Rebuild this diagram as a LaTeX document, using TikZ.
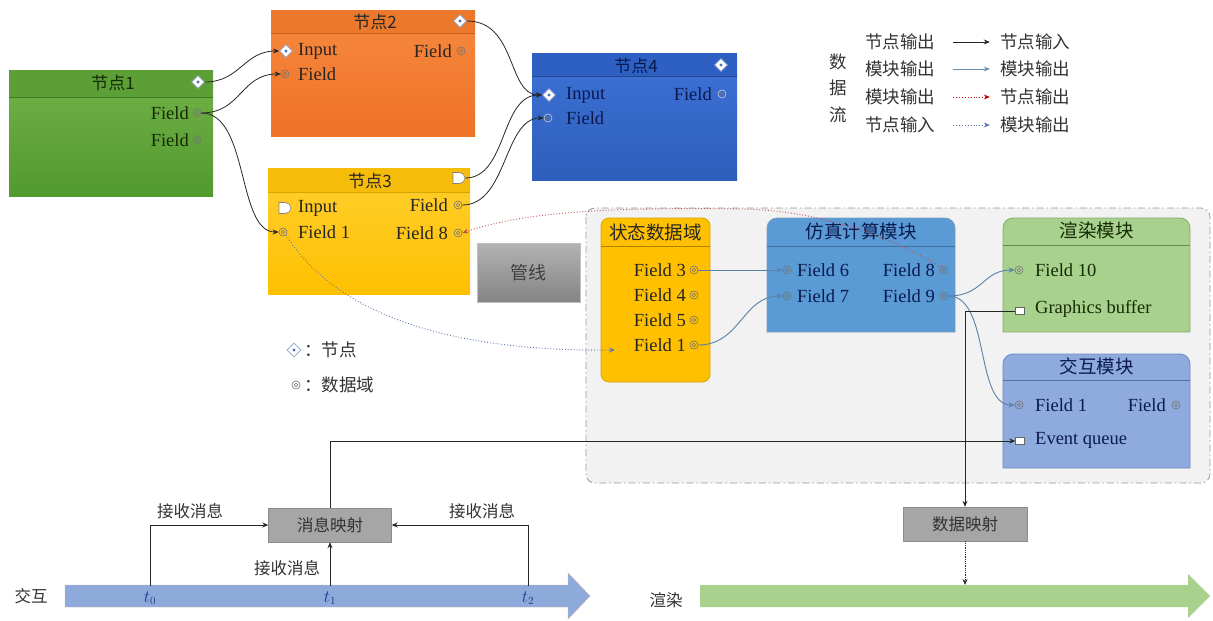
\documentclass[tikz,border=0pt]{standalone}
\usepackage{fontspec}
\setmainfont{Liberation Serif}
\newfontfamily\cjk{Noto Sans CJK SC}
\usetikzlibrary{arrows.meta,shapes.geometric,shapes.misc,calc}
\definecolor{gTop}{HTML}{74B24A}
\definecolor{gBot}{HTML}{519A2D}
\definecolor{gHdr}{HTML}{5C9F37}
\definecolor{gTxt}{HTML}{142B05}
\definecolor{oTop}{HTML}{F7893F}
\definecolor{oBot}{HTML}{EE7226}
\definecolor{oHdr}{HTML}{EC782C}
\definecolor{yTop}{HTML}{FFCF30}
\definecolor{yBot}{HTML}{FFC000}
\definecolor{yHdr}{HTML}{F6BC0A}
\definecolor{bTop}{HTML}{3D72D6}
\definecolor{bBot}{HTML}{2E5EBC}
\definecolor{bHdr}{HTML}{2D60C2}
\definecolor{bTxt}{HTML}{0A1A4E}
\definecolor{stFill}{HTML}{FFC000}
\definecolor{stLine}{HTML}{D9A300}
\definecolor{smFill}{HTML}{5B9BD5}
\definecolor{smLine}{HTML}{41719C}
\definecolor{rdFill}{HTML}{A9D18E}
\definecolor{rdLine}{HTML}{85AD6A}
\definecolor{ixFill}{HTML}{8FAADC}
\definecolor{ixLine}{HTML}{6A8BC8}
\definecolor{tlBlue}{HTML}{8EAADB}
\definecolor{bgFill}{HTML}{F2F2F2}
\definecolor{mLineC}{HTML}{5A7FA8}
\definecolor{redDot}{HTML}{C0504D}
\definecolor{blueDot}{HTML}{5B78B0}
\definecolor{tBlue}{HTML}{1F3A8A}
\definecolor{pdiaLine}{HTML}{8FA3C8}
\definecolor{pdiaDot}{HTML}{4A6FB5}
\begin{document}
\begin{tikzpicture}[x=1pt,y=-1pt,
  box/.style={rectangle, inner sep=0pt, outer sep=0pt},
  pdia/.style={diamond, draw=pdiaLine, fill=white, line width=0.8pt, inner sep=0pt, minimum size=13pt,
     path picture={\fill[pdiaDot] (path picture bounding box.center) circle (1.7pt);}},
  pcir/.style={circle, draw=black!55, line width=0.6pt, inner sep=0pt, minimum size=8pt,
     path picture={\draw[black!55, line width=0.5pt] (path picture bounding box.center) circle (1.8pt);}},
  pD/.style={rounded rectangle, rounded rectangle left arc=none, draw=black!50, fill=white, line width=0.6pt, inner sep=0pt, minimum width=12pt, minimum height=11pt},
  psq/.style={rectangle, draw=black!60, fill=white, line width=0.6pt, inner sep=0pt, minimum width=9pt, minimum height=7pt},
  fld/.style={font=\fontsize{18.5}{18.5}\selectfont, inner sep=0pt},
  ttl/.style={font=\cjk\fontsize{17}{17}\selectfont, inner sep=0pt},
  mttl/.style={font=\cjk\fontsize{18.5}{18.5}\selectfont, inner sep=0pt},
  lgd/.style={font=\cjk\fontsize{17.5}{17.5}\selectfont, inner sep=0pt, text=black!80},
  lbl/.style={font=\cjk\fontsize{16.5}{16.5}\selectfont, inner sep=0pt, text=black!80},
  gbox/.style={rectangle, draw=black!45, fill=black!35, inner sep=0pt, font=\cjk\fontsize{16.5}{16.5}\selectfont, text=black!80},
  nline/.style={draw=black!85, line width=0.8pt, -{Stealth[length=6pt,width=5pt]}},
  mline/.style={draw=mLineC, line width=0.9pt, -{Stealth[length=6pt,width=5pt]}},
  rdot/.style={draw=redDot, dotted, line width=0.9pt, -{Stealth[length=6pt,width=5pt]}},
  bdot/.style={draw=blueDot, dotted, line width=0.9pt, -{Stealth[length=6pt,width=5pt]}},
  aline/.style={draw=black!85, line width=0.8pt, -{Stealth[length=6pt,width=5pt]}}
]
\useasboundingbox[fill=white] (0,0) rectangle (1213,621);

% ---------------- Node 1 ----------------
\node[box, minimum width=204pt, minimum height=126pt, top color=gTop, bottom color=gBot] (n1) at (111,133) {};
\fill[gHdr] (n1.north west) rectangle ($(n1.north east)+(0,27)$);
\draw[gBot!80!black] ($(n1.north west)+(0,27)$) -- ($(n1.north east)+(0,27)$);
\node[ttl, text=gTxt] (n1t) at (113,83) {节点1};
\node[pdia] (n1o) at (198,82) {};
\node[fld, anchor=east, text=gTxt] (n1f1t) at (189,113) {Field};
\node[pcir] (n1f1) at (197,113) {};
\node[fld, anchor=east, text=gTxt] (n1f2t) at (189,140) {Field};
\node[pcir] (n1f2) at (197,140) {};

% ---------------- Node 2 ----------------
\node[box, minimum width=204pt, minimum height=126pt, top color=oTop, bottom color=oBot] (n2) at (373,73) {};
\fill[oHdr] (n2.north west) rectangle ($(n2.north east)+(0,23)$);
\draw[oBot!85!black] ($(n2.north west)+(0,23)$) -- ($(n2.north east)+(0,23)$);
\node[ttl, text=black!85] (n2t) at (375,22) {节点2};
\node[pdia] (n2o) at (460,21) {};
\node[pdia] (n2i) at (286,51) {};
\node[fld, anchor=west, text=black!85] (n2it) at (298,51) {Input};
\node[pcir] (n2f) at (285,74) {};
\node[fld, anchor=west, text=black!85] (n2ft) at (298,74) {Field};
\node[fld, anchor=east, text=black!85] (n2rt) at (452,51) {Field};
\node[pcir] (n2r) at (461,51) {};

% ---------------- Node 3 ----------------
\node[box, minimum width=202pt, minimum height=126pt, top color=yTop, bottom color=yBot] (n3) at (369,231) {};
\fill[yHdr] (n3.north west) rectangle ($(n3.north east)+(0,24)$);
\draw[yBot!85!black] ($(n3.north west)+(0,24)$) -- ($(n3.north east)+(0,24)$);
\node[ttl, text=black!85] (n3t) at (370,181) {节点3};
\node[pD] (n3o) at (459,178) {};
\node[pD] (n3i) at (285,208) {};
\node[fld, anchor=west, text=black!85] (n3it) at (298,208) {Input};
\node[pcir] (n3f1) at (283,232) {};
\node[fld, anchor=west, text=black!85] (n3f1t) at (298,232) {Field 1};
\node[fld, anchor=east, text=black!85] (n3rt) at (448,205) {Field};
\node[pcir] (n3r) at (458,205) {};
\node[fld, anchor=east, text=black!85] (n3f8t) at (448,233) {Field 8};
\node[pcir] (n3f8) at (458,233) {};

% ---------------- Node 4 ----------------
\node[box, minimum width=205pt, minimum height=127pt, top color=bTop, bottom color=bBot] (n4) at (634.5,116.5) {};
\fill[bHdr] (n4.north west) rectangle ($(n4.north east)+(0,23)$);
\draw[bBot!75!black] ($(n4.north west)+(0,23)$) -- ($(n4.north east)+(0,23)$);
\node[ttl, text=bTxt] (n4t) at (636,66) {节点4};
\node[pdia] (n4o) at (721,65) {};
\node[pdia] (n4i) at (549,95) {};
\node[fld, anchor=west, text=bTxt] (n4it) at (566,95) {Input};
\node[pcir, draw=white!80!black] (n4f) at (548,118) {};
\node[fld, anchor=west, text=bTxt] (n4ft) at (566,118) {Field};
\node[fld, anchor=east, text=bTxt] (n4rt) at (712,94) {Field};
\node[pcir, draw=white!80!black] (n4r) at (722,94) {};

% ---------------- Legend (top right) ----------------
\node[lgd] (lgA) at (838,62) {数};
\node[lgd] (lgB) at (838,88) {据};
\node[lgd] (lgC) at (838,115) {流};
\node[lgd] (l1a) at (900,42) {节点输出};
\node[lgd] (l1b) at (1035,42) {节点输入};
\node[lgd] (l2a) at (900,69) {模块输出};
\node[lgd] (l2b) at (1035,69) {模块输出};
\node[lgd] (l3a) at (900,97) {模块输出};
\node[lgd] (l3b) at (1035,97) {节点输出};
\node[lgd] (l4a) at (900,125) {节点输入};
\node[lgd] (l4b) at (1035,125) {模块输出};
\draw[nline, shorten <=18pt, shorten >=10pt] (l1a.east) -- (l1b.west);
\draw[mline, draw=smLine!80!white, shorten <=18pt, shorten >=10pt] (l2a.east) -- (l2b.west);
\draw[rdot, draw=red!75!black, shorten <=18pt, shorten >=10pt] (l3a.east) -- (l3b.west);
\draw[bdot, shorten <=18pt, shorten >=10pt] (l4a.east) -- (l4b.west);

% ---------------- Pipeline background ----------------
\draw[draw=black!40, fill=bgFill, line width=0.8pt, dash pattern=on 7pt off 3pt on 1.5pt off 3pt, rounded corners=9pt] (586,208) rectangle (1210,483);

\node[box, minimum width=103pt, minimum height=59pt, top color=black!30, bottom color=black!48, draw=black!25, font=\cjk\fontsize{18}{18}\selectfont, text=black!75] (pipe) at (528.5,272.5) {管线};

% 状态数据域
\node[box, minimum width=109pt, minimum height=164pt] (st) at (655.5,300) {};
\draw[fill=stFill, draw=stLine, line width=0.8pt, rounded corners=8pt] (st.south west) -- (st.north west) -- (st.north east) -- (st.south east) -- cycle;
\draw[stLine!80!black, line width=0.8pt] ($(st.north west)+(0,28)$) -- ($(st.north east)+(0,28)$);
\node[mttl, text=black!85] (stt) at (655.5,232) {状态数据域};
\node[fld, anchor=east, text=black!85] (s3t) at (686,270) {Field 3};
\node[pcir] (s3) at (694,270) {};
\node[fld, anchor=east, text=black!85] (s4t) at (686,295) {Field 4};
\node[pcir] (s4) at (694,295) {};
\node[fld, anchor=east, text=black!85] (s5t) at (686,320) {Field 5};
\node[pcir] (s5) at (694,320) {};
\node[fld, anchor=east, text=black!85] (s1t) at (686,345) {Field 1};
\node[pcir] (s1) at (694,345) {};
\coordinate (sf1in) at (615,350);

% 仿真计算模块
\node[box, minimum width=188pt, minimum height=114pt] (sm) at (861,275) {};
\draw[fill=smFill, draw=smLine!70, line width=0.8pt] (sm.south west) [rounded corners=10pt] -- (sm.north west) -- (sm.north east) [sharp corners] -- (sm.south east) -- cycle;
\draw[smLine, line width=0.8pt] ($(sm.north west)+(0,28)$) -- ($(sm.north east)+(0,28)$);
\node[mttl, text=bTxt] (smt) at (861,231) {仿真计算模块};
\node[pcir] (m6) at (787,270) {};
\node[fld, anchor=west, text=bTxt] (m6t) at (797,270) {Field 6};
\node[pcir] (m7) at (787,296) {};
\node[fld, anchor=west, text=bTxt] (m7t) at (797,296) {Field 7};
\node[fld, anchor=east, text=bTxt] (m8t) at (935,270) {Field 8};
\node[pcir] (m8) at (944,270) {};
\node[fld, anchor=east, text=bTxt] (m9t) at (935,296) {Field 9};
\node[pcir] (m9) at (944,296) {};

% 渲染模块
\node[box, minimum width=187pt, minimum height=114pt] (rd) at (1096.5,275) {};
\draw[fill=rdFill, draw=rdLine, line width=0.8pt] (rd.south west) [rounded corners=10pt] -- (rd.north west) -- (rd.north east) [sharp corners] -- (rd.south east) -- cycle;
\draw[rdLine!80!black, line width=0.8pt] ($(rd.north west)+(0,27)$) -- ($(rd.north east)+(0,27)$);
\node[mttl, text=gTxt] (rdt) at (1096.5,230) {渲染模块};
\node[pcir] (r10) at (1019,270) {};
\node[fld, anchor=west, text=gTxt] (r10t) at (1035,270) {Field 10};
\node[psq] (gb) at (1020,311) {};
\node[fld, anchor=west, text=gTxt] (gbt) at (1035,309) {Graphics buffer};

% 交互模块
\node[box, minimum width=187pt, minimum height=114pt] (ix) at (1096.5,411) {};
\draw[fill=ixFill, draw=ixLine, line width=0.8pt] (ix.south west) [rounded corners=10pt] -- (ix.north west) -- (ix.north east) [sharp corners] -- (ix.south east) -- cycle;
\draw[ixLine!80!black, line width=0.8pt] ($(ix.north west)+(0,26)$) -- ($(ix.north east)+(0,26)$);
\node[mttl, text=bTxt] (ixt) at (1096.5,366) {交互模块};
\node[pcir] (i1) at (1019,405) {};
\node[fld, anchor=west, text=bTxt] (i1t) at (1035,405) {Field 1};
\node[fld, anchor=east, text=bTxt] (irt) at (1166,405) {Field};
\node[pcir] (ir) at (1176,405) {};
\node[psq] (eq) at (1020,441) {};
\node[fld, anchor=west, text=bTxt] (eqt) at (1035,440) {Event queue};

% ---------------- Small legend ----------------
\node[pdia, minimum size=14pt] (lgd1) at (294,350) {};
\node[lgd, anchor=west] (lgd1t) at (304,350) {：节点};
\node[pcir] (lgd2) at (296,385) {};
\node[lgd, anchor=west] (lgd2t) at (304,385) {：数据域};

% ---------------- Node connectors ----------------
\draw[nline] (n1o.east) .. controls +(35,0) and +(-35,0) .. (n2i.west);
\draw[nline] (n1f1.east) .. controls +(40,0) and +(-40,0) .. (n2f.west);
\draw[nline] (n1f1.east) .. controls +(48,0) and +(-42,0) .. (n3f1.west);
\draw[nline] (n2o.east) .. controls +(50,0) and +(-35,0) .. (n4i.west);
\draw[nline] (n3o.east) .. controls +(42,0) and +(-42,0) .. (n4i.west);
\draw[nline] (n3r.east) .. controls +(45,0) and +(-40,0) .. (n4f.west);

% ---------------- Module connectors ----------------
\draw[mline] (s3.east) -- (m6.west);
\draw[mline] (s1.east) .. controls +(42,0) and +(-40,0) .. (m7.west);
\draw[mline] (m9.east) .. controls +(35,0) and +(-32,0) .. (r10.west);
\draw[mline] (m9.east) .. controls +(42,0) and +(-40,0) .. (i1.west);

\draw[rdot] (m8.north west) .. controls (905,245) and (830,210) .. (740,209) .. controls (600,207) and (520,213) .. (n3f8.east);
\draw[bdot] (n3f1.south east) .. controls (330,305) and (430,352) .. (sf1in);

% ---------------- Bottom timelines ----------------
\fill[fill=tlBlue, draw=red!25!black!30] (65,585) -- (568,585) -- (568,573) -- (590,596) -- (568,619) -- (568,607) -- (65,607) -- cycle;
\fill[fill=rdFill] (700,585) -- (1188,585) -- (1188,574) -- (1210,596) -- (1188,618) -- (1188,607) -- (700,607) -- cycle;
\node[lbl] (jh) at (31,596) {交互};
\node[lbl] (xr) at (666,600) {渲染};
\node[inner sep=0pt, text=tBlue, font=\fontsize{16}{16}\selectfont] (t0) at (150,598) {$t_0$};
\node[inner sep=0pt, text=tBlue, font=\fontsize{16}{16}\selectfont] (t1) at (330,598) {$t_1$};
\node[inner sep=0pt, text=tBlue, font=\fontsize{16}{16}\selectfont] (t2) at (528,598) {$t_2$};
\coordinate (t0top) at (150,586);
\coordinate (t1top) at (330,586);
\coordinate (t2top) at (528,586);
\coordinate (gtop) at (965,585);

\node[gbox, minimum width=123pt, minimum height=34pt] (msg) at (330,525) {消息映射};
\node[gbox, minimum width=124pt, minimum height=34pt] (dmap) at (965,524) {数据映射};

\draw[aline] (t0top) |- (msg.west);
\draw[aline] (t2top) |- (msg.east);
\draw[aline] (t1top) -- (msg.south);
\draw[aline] (msg.north) |- (eq.west);
\draw[aline] (gb.west) -| (dmap.north);
\draw[aline, densely dotted] (dmap.south) -- (gtop);

\node[lbl] (rx0) at (190,511) {接收消息};
\node[lbl] (rx2) at (482,511) {接收消息};
\node[lbl] (rx1) at (287,568) {接收消息};
\end{tikzpicture}
\end{document}
